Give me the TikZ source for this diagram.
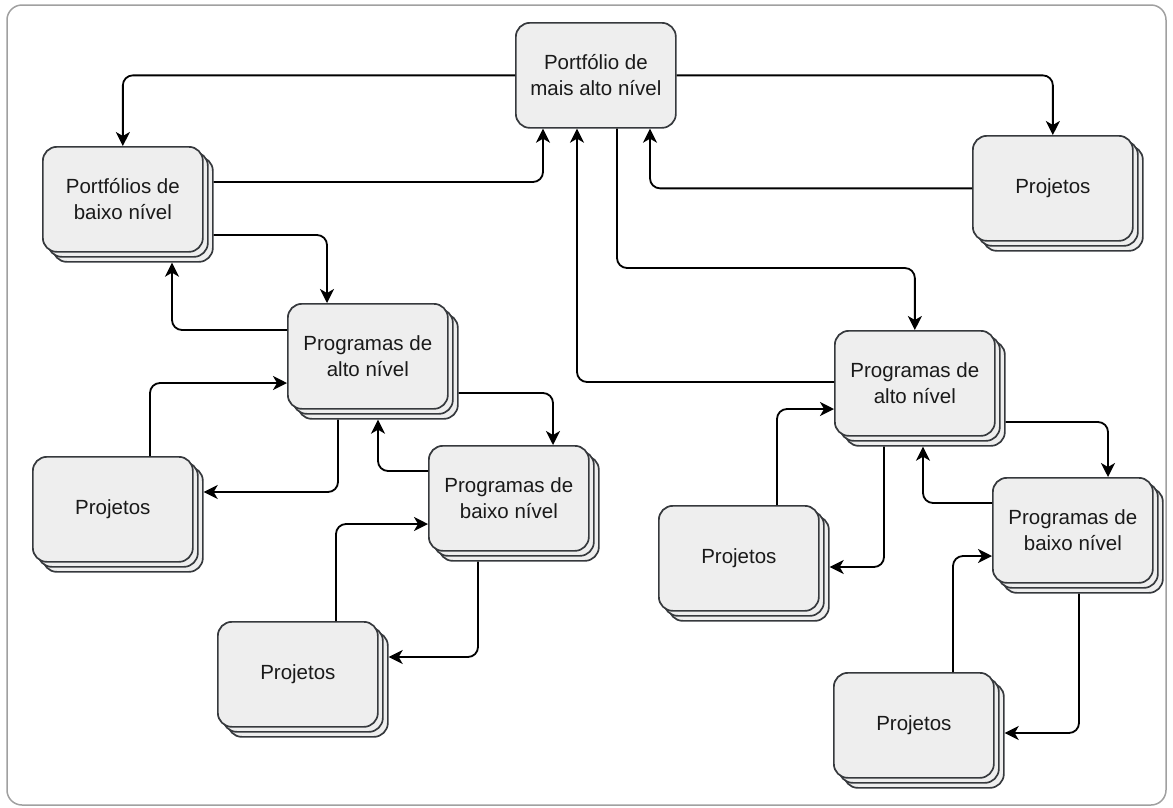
\documentclass[tikz,border=0pt]{standalone}
\usepackage{fontspec}
\setmainfont{Liberation Sans}
\usetikzlibrary{arrows.meta,calc,shadows}
\definecolor{boxfill}{HTML}{EEEEEE}
\definecolor{boxline}{HTML}{36393D}
\definecolor{txt}{HTML}{1A1A1A}
\definecolor{framegray}{HTML}{A0A0A0}
\tikzset{
  box/.style={draw=boxline, fill=boxfill, line width=1.7pt, rounded corners=14pt,
    anchor=north west, minimum width=160pt, minimum height=105pt, inner sep=0pt,
    align=center, text=txt, font=\fontsize{20.5}{26}\selectfont},
  layer/.style={draw=boxline, fill=boxfill, line width=1.7pt},
  card/.style={box,
    general shadow={shadow xshift=10pt, shadow yshift=-10pt, layer},
    general shadow={shadow xshift=5pt, shadow yshift=-5pt, layer}},
  conn/.style={draw=black, line width=1.8pt, rounded corners=10pt,
    -{Stealth[length=14pt,width=14pt,inset=4pt]}},
  outer/.style={draw=framegray, line width=1.5pt, rounded corners=15pt},
}
\begin{document}
\begin{tikzpicture}[x=1pt,y=-1pt]
\useasboundingbox (0,0) rectangle (1173,807);
\draw[outer] (7,5) rectangle (1166,805);

% portfolio hierarchy
\node[box]  (top)  at (515,22)  {Portfólio de\\mais alto nível};
\node[card] (pb)   at (42,146)  {Portfólios de\\baixo nível};
\node[card] (pr1)  at (972,135) {Projetos};

% left branch
\node[card] (pa1)  at (287,303) {Programas de\\alto nível};
\node[card] (pj1)  at (32,456)  {Projetos};
\node[card] (pbx1) at (428,445) {Programas de\\baixo nível};
\node[card] (pj2)  at (217,621) {Projetos};

% right branch
\node[card] (pa2)  at (834,330) {Programas de\\alto nível};
\node[card] (pj3)  at (658,505) {Projetos};
\node[card] (pbx2) at (992,477) {Programas de\\baixo nível};
\node[card] (pj4)  at (833,672) {Projetos};

% connectors from the top portfolio
\draw[conn] (top.west) -| (pb.north);
\draw[conn] (top.east) -| (pr1.north);
\draw[conn] ($(pb.north east)+(10,36)$) -| ($(top.south west)+(28,0)$);
\draw[conn] (pr1.west) -| ($(top.south west)+(135,0)$);
\draw[conn] ($(top.south west)+(102,0)$) |- ($(pa2.north)+(0,-62)$) -- (pa2.north);
\draw[conn] ($(pa2.north west)+(0,52)$) -| ($(top.south west)+(62,0)$);

% left branch connectors
\draw[conn] ($(pb.north east)+(10,89)$) -| ($(pa1.north west)+(40,0)$);
\draw[conn] ($(pa1.north west)+(0,27)$) -| ($(pb.south west)+(130,10)$);
\draw[conn] ($(pj1.north west)+(118,0)$) |- ($(pa1.north west)+(0,80)$);
\draw[conn] ($(pa1.south west)+(51,10)$) |- ($(pj1.north east)+(10,36)$);
\draw[conn] ($(pa1.north east)+(10,90)$) -| ($(pbx1.north west)+(125,0)$);
\draw[conn] ($(pbx1.north west)+(0,26)$) -| ($(pa1.south west)+(91,10)$);
\draw[conn] ($(pj2.north west)+(119,0)$) |- ($(pbx1.north west)+(0,79)$);
\draw[conn] ($(pbx1.south west)+(50,10)$) |- ($(pj2.north east)+(10,36)$);

% right branch connectors
\draw[conn] ($(pj3.north west)+(119,0)$) |- ($(pa2.north west)+(0,79)$);
\draw[conn] ($(pa2.south west)+(50,10)$) |- ($(pj3.north east)+(10,62)$);
\draw[conn] ($(pa2.north east)+(10,92)$) -| ($(pbx2.north west)+(116,0)$);
\draw[conn] ($(pbx2.north west)+(0,26)$) -| ($(pa2.south west)+(89,10)$);
\draw[conn] ($(pj4.north west)+(120,0)$) |- ($(pbx2.north west)+(0,79)$);
\draw[conn] ($(pbx2.south west)+(87,10)$) |- ($(pj4.north east)+(10,61)$);
\end{tikzpicture}
\end{document}
